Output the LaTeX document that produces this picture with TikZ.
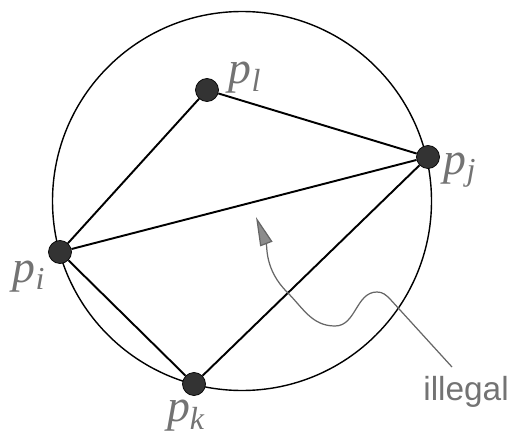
\documentclass[tikz,border=0pt]{standalone}
\usepackage{fontspec}
\setmainfont{Liberation Serif}
\setsansfont{Liberation Sans}
\usetikzlibrary{arrows.meta}

\begin{document}
\begin{tikzpicture}[
    pt/.style={circle, fill=black!80, draw=black, minimum size=0.46cm, inner sep=0pt},
    edge/.style={draw, line width=1.1pt},
    rim/.style={draw, line width=0.8pt},
    lbl/.style={text=black!55, font=\fontsize{26}{28}\selectfont\itshape, inner sep=0pt},
    note/.style={text=black!55, font=\sffamily\fontsize{19}{21}\selectfont, inner sep=0pt},
    pointer/.style={draw=black!60, line width=0.7pt, -{Triangle[length=0.58cm, width=0.26cm, fill=black!45]}}
]
    \useasboundingbox (0,0) rectangle (10.36,8.68);

    % circumcircle
    \coordinate (cc) at (4.84,4.66);
    \draw[rim] (cc) circle (3.79);

    % points
    \node[pt] (pi) at (1.20,3.64) {};
    \node[pt] (pj) at (8.56,5.54) {};
    \node[pt] (pk) at (3.88,1.00) {};
    \node[pt] (pl) at (4.14,6.88) {};

    \draw[edge] (pi) -- (pl);
    \draw[edge] (pl) -- (pj);
    \draw[edge] (pi) -- (pj);
    \draw[edge] (pi) -- (pk);
    \draw[edge] (pk) -- (pj);

    \node[lbl] (lpi) at (0.58,3.14) {p\textsubscript{i}};
    \node[lbl] (lpj) at (9.20,5.28) {p\textsubscript{j}};
    \node[lbl] (lpk) at (3.72,0.36) {p\textsubscript{k}};
    \node[lbl] (lpl) at (4.90,7.12) {p\textsubscript{l}};

    % illegal edge marker
    \node[note, anchor=base west] (ill) at (8.46,0.68) {illegal};
    \coordinate (a0) at (9.04,1.34);
    \coordinate (a1) at (7.80,2.70);
    \coordinate (a2) at (7.54,2.84);
    \coordinate (a3) at (6.70,2.16);
    \coordinate (a4) at (5.74,2.84);
    \coordinate (a5) at (5.12,4.34);
    \draw[pointer] (a0) -- (a1) to[out=135,in=0] (a2) to[out=180,in=0] (a3)
        to[out=180,in=-45] (a4) to[out=135,in=-69] (a5);
\end{tikzpicture}
\end{document}
